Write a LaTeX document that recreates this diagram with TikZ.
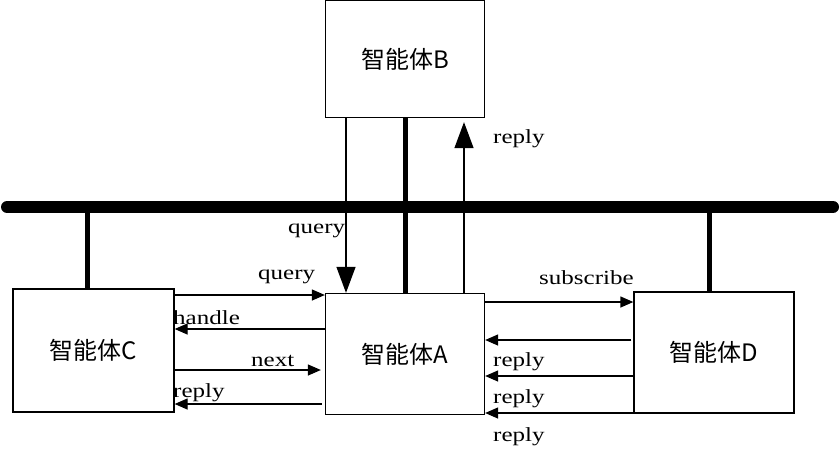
\documentclass[tikz,border=0pt]{standalone}
\usepackage{fontspec}
\setmainfont{Liberation Serif}[FakeStretch=1.25]
\newfontfamily\cjk{Noto Sans CJK SC}
\usetikzlibrary{arrows.meta}

\tikzset{
    agent/.style={draw, line width=1.3pt, inner sep=0pt, minimum width=159pt,
        minimum height=121pt, font=\cjk\fontsize{24}{24}\selectfont},
    msg/.style={line width=1.3pt, -{Triangle[length=13pt, width=11pt]}},
    bigmsg/.style={line width=1.3pt, -{Triangle[length=26pt, width=19pt]}},
    bus/.style={line width=12pt, line cap=round},
    drop/.style={line width=5pt},
    lbl/.style={anchor=base west, inner sep=0pt, font=\fontsize{20}{20}\selectfont}
}

\begin{document}
\begin{tikzpicture}[x=1pt, y=-1pt]
    \useasboundingbox (0,0) rectangle (840,448);

    % agents
    \node[agent, minimum height=117pt] (B) at (405,59) {智能体B};
    \node[agent] (A) at (405,354) {智能体A};
    \node[agent, minimum width=161pt, minimum height=123pt] (C) at (93.5,350.5) {智能体C};
    \node[agent, minimum width=160pt] (D) at (714,352.5) {智能体D};

    % bus
    \coordinate (busL) at (7,207);
    \coordinate (busR) at (833,207);
    \coordinate (tapC) at (87,207);
    \coordinate (tapD) at (709,207);
    \draw[bus] (busL) -- (busR);
    \draw[drop] (tapC) -- (C.north -| tapC);
    \draw[drop] (tapD) -- (D.north -| tapD);
    \draw[drop] (B.south) -- (A.north);

    % B <-> A
    \draw[bigmsg] ([xshift=-59pt]B.south) -- ([xshift=-59pt]A.north);
    \draw[bigmsg, shorten >=4pt] ([xshift=59pt]A.north) -- ([xshift=59pt]B.south);
    \node[lbl] (lqB) at (288,233) {query};
    \node[lbl] (lrB) at (493,143) {reply};

    % C <-> A
    \coordinate (c1) at (0,295);
    \coordinate (c2) at (0,329);
    \coordinate (c3) at (0,370);
    \coordinate (c4) at (0,404);
    \draw[msg] (C.east |- c1) -- (A.west |- c1);
    \draw[msg] (A.west |- c2) -- (C.east |- c2);
    \draw[msg] (C.east |- c3) -- ([xshift=-4pt]A.west |- c3);
    \draw[msg] ([xshift=-3pt]A.west |- c4) -- (C.east |- c4);
    \node[lbl] (lqC) at (258,279) {query};
    \node[lbl] (lhC) at (173,324) {handle};
    \node[lbl] (lnC) at (251,366) {next};
    \node[lbl] (lrC) at (173,397) {reply};

    % A <-> D
    \coordinate (d0) at (0,302);
    \draw[msg] (A.east |- d0) -- (D.west |- d0);
    \node[lbl] (lsD) at (539,284) {subscribe};
    \foreach \y/\s/\b in {340/2/366, 376/0/403, 413/0/441} {
        \coordinate (dy) at (0,\y);
        \draw[msg] ([xshift=-\s pt]D.west |- dy) -- (A.east |- dy);
        \node[lbl] at (493,\b) {reply};
    }

\end{tikzpicture}
\end{document}
